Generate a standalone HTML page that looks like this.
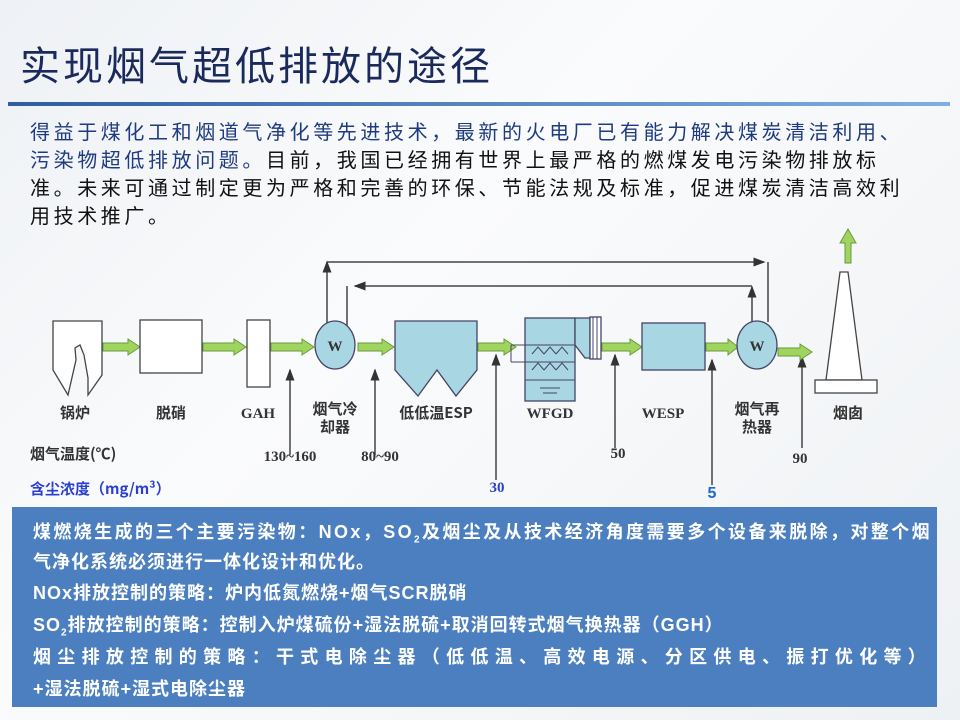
<!DOCTYPE html>
<html><head><meta charset="utf-8"><style>
body{margin:0;width:960px;height:720px;overflow:hidden;background:linear-gradient(135deg,#eef1f5,#fafbfc 40%,#eef1f4);font-family:"Liberation Sans","Noto Sans CJK SC",sans-serif;position:relative}
.t{position:absolute;left:20px;top:34px;font-size:40px;color:#1b2a5c;letter-spacing:3px;white-space:nowrap}
.bar{position:absolute;left:8px;top:102px;width:942px;height:4px;background:linear-gradient(90deg,#2f5e9e,#7faee0)}
.p{position:absolute;left:30px;top:119px;font-size:20px;line-height:28px;color:#111;letter-spacing:3.6px;white-space:nowrap}
.box{position:absolute;left:12px;top:507px;width:925px;height:200px;background:#4c7fc0;color:#fff;font-weight:bold;font-size:18px;letter-spacing:1px}
.box div{position:absolute;left:21px;white-space:nowrap}
svg{position:absolute;left:0;top:0}
</style></head><body>
<div class="t">实现烟气超低排放的途径</div>
<div class="bar"></div>
<div class="p"><span style="color:#1f3b80">得益于煤化工和烟道气净化等先进技术，最新的火电厂已有能力解决煤炭清洁利用、</span><br><span style="color:#1f3b80">污染物超低排放问题。</span>目前，我国已经拥有世界上最严格的燃煤发电污染物排放标<br>准。未来可通过制定更为严格和完善的环保、节能法规及标准，促进煤炭清洁高效利<br>用技术推广。</div>
<svg width="960" height="720" viewBox="0 0 960 720">
<defs><marker id="a" markerWidth="8" markerHeight="8" refX="7" refY="4" orient="auto"><path d="M0,1 L8,4 L0,7z" fill="#333"/></marker></defs>
<g fill="none" stroke="#444" stroke-width="1.5">
<path d="M327,327 V262" marker-end="url(#a)"/>
<path d="M327,262 H764" marker-end="url(#a)"/>
<path d="M768,262 V322"/>
<path d="M752,322 V287" marker-end="url(#a)"/>
<path d="M752,286 H355" marker-end="url(#a)"/>
<path d="M347,286 V327"/>
<path d="M290,455 V370" marker-end="url(#a)"/>
<path d="M375,455 V370" marker-end="url(#a)"/>
<path d="M496,480 V355" marker-end="url(#a)"/>
<path d="M615,448 V355" marker-end="url(#a)"/>
<path d="M712,485 V360" marker-end="url(#a)"/>
<path d="M802,448 V357" marker-end="url(#a)"/>
</g>
<g fill="#9fd45e" stroke="#6a9a3a" stroke-width="1">
<path d="M103,343 H128 V339 L140,347 L128,355 V351 H103z"/>
<path d="M203,343 H234 V339 L246,347 L234,355 V351 H203z"/>
<path d="M271,343 H302 V339 L314,347 L302,355 V351 H271z"/>
<path d="M358,343 H382 V339 L394,347 L382,355 V351 H358z"/>
<path d="M478,343 H504 V339 L516,347 L504,355 V351 H478z"/>
<path d="M602,343 H630 V339 L642,347 L630,355 V351 H602z"/>
<path d="M706,343 H728 V339 L738,347 L728,355 V351 H706z"/>
<path d="M778,348 H800 V344 L812,352 L800,360 V356 H778z"/>
<path d="M845,263 V243 H840 L848,229 L856,243 H851 V263z"/>
</g>
<g stroke="#444" stroke-width="1.3" fill="#fff">
<path d="M53,321 H102 V375 L88,395 V378 L84,355 L80,345 L75,348 L76,360 L68,395 L53,370z"/>
<rect x="140" y="320" width="62" height="53"/>
<rect x="247" y="320" width="23" height="67"/>
<path d="M840,272 H848 L862,380 H826z"/>
<rect x="815" y="380" width="62" height="13"/>
</g>
<g stroke="#446" stroke-width="1.3" fill="#a9d6e3">
<ellipse cx="335" cy="345" rx="20" ry="24"/>
<ellipse cx="757" cy="345" rx="20" ry="24"/>
<path d="M395,321 H477 V370 L456,396 L437,370 L418,396 L395,370z"/>
<rect x="642" y="323" width="63" height="47"/>
<rect x="525" y="318" width="50" height="83"/>
<path d="M575,318 H590 V358 H585 L575,345z"/>
<rect x="590" y="317" width="11" height="42" fill="#fff"/>
</g>
<g stroke="#446" stroke-width="1" fill="none">
<path d="M511,345 H575 M511,362 H575 M511,345 V362 M525,380 H575 M540,388 H560 M543,393 H557 M593,317 V359 M597,317 V359"/>
<path d="M532,354 L538,347 L544,354 M544,354 L550,347 L556,354 M556,354 L562,347 L568,354 M532,370 L538,363 L544,370 M544,370 L550,363 L556,370 M556,370 L562,363 L568,370"/>
</g>
<g font-family="Liberation Serif,Noto Serif CJK SC,serif" font-weight="bold" font-size="15" fill="#333" text-anchor="middle">
<text x="335" y="351">W</text><text x="757" y="351">W</text>
<text x="75" y="418" font-family="Noto Sans CJK SC,sans-serif">锅炉</text>
<text x="171" y="418" font-family="Noto Sans CJK SC,sans-serif">脱硝</text>
<text x="258" y="418">GAH</text>
<text x="335" y="414" font-family="Noto Sans CJK SC,sans-serif">烟气冷</text>
<text x="335" y="432" font-family="Noto Sans CJK SC,sans-serif">却器</text>
<text x="436" y="418" font-family="Noto Sans CJK SC,sans-serif">低低温ESP</text>
<text x="550" y="418">WFGD</text>
<text x="663" y="418">WESP</text>
<text x="757" y="414" font-family="Noto Sans CJK SC,sans-serif">烟气再</text>
<text x="757" y="432" font-family="Noto Sans CJK SC,sans-serif">热器</text>
<text x="848" y="418" font-family="Noto Sans CJK SC,sans-serif">烟囱</text>
<text x="290" y="461">130~160</text>
<text x="380" y="461">80~90</text>
<text x="618" y="458">50</text>
<text x="800" y="463">90</text>
<text x="497" y="492" fill="#2a3fd0">30</text>
<text x="712" y="498" fill="#1a6ad0" font-family="Liberation Sans,sans-serif" font-size="16">5</text>
<text x="30" y="459" text-anchor="start" font-family="Noto Sans CJK SC,sans-serif">烟气温度(℃)</text>
<text x="30" y="494" text-anchor="start" fill="#2a3fd0" font-family="Noto Sans CJK SC,sans-serif">含尘浓度（mg/m³）</text>
</g>
</svg>
<div class="box">
<div style="top:11px;letter-spacing:2.4px">煤燃烧生成的三个主要污染物：NOx，SO<sub style="font-size:10px">2</sub>及烟尘及从技术经济角度需要多个设备来脱除，对整个烟</div>
<div style="top:41px">气净化系统必须进行一体化设计和优化。</div>
<div style="top:72px">NOx排放控制的策略：炉内低氮燃烧+烟气SCR脱硝</div>
<div style="top:104px">SO<sub style="font-size:10px">2</sub>排放控制的策略：控制入炉煤硫份+湿法脱硫+取消回转式烟气换热器（GGH）</div>
<div style="top:136px;letter-spacing:6.3px">烟尘排放控制的策略：干式电除尘器（低低温、高效电源、分区供电、振打优化等）</div>
<div style="top:168px">+湿法脱硫+湿式电除尘器</div>
</div>
</body></html>
